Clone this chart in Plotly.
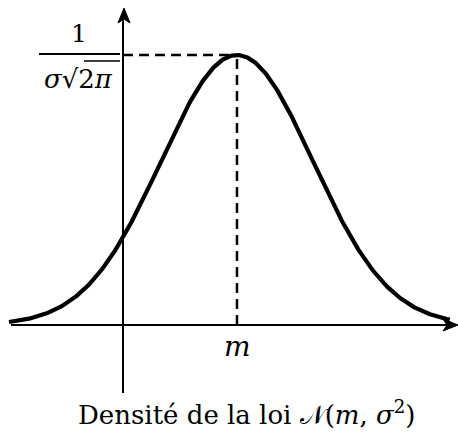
import numpy as np
import plotly.graph_objects as go

# Normal law parameters (mean at the origin of the drawing, unit spread)
m = 0.0
sigma = 1.0
x_start, x_end = -3.0, 2.8          # extent of the drawn curve
y_axis_pos = -1.5                    # where the vertical axis crosses
peak = 1.0 / (sigma * np.sqrt(2 * np.pi))

x = np.linspace(x_start, x_end, 400)
y = peak * np.exp(-((x - m) ** 2) / (2 * sigma ** 2))

W, H = 458, 441
px_x = 76.0          # pixels per x unit
px_y = 270.0 / peak  # pixels per y unit
x0_px, y0_px = 237.0, 325.0
xr = [(0 - x0_px) / px_x, (W - x0_px) / px_x]
yr = [(y0_px - H) / px_y, y0_px / px_y]


def X(p):
    return (p - x0_px) / px_x


def Y(p):
    return (y0_px - p) / px_y


FONT = "DejaVu Serif"

fig = go.Figure()

# axes
fig.add_trace(go.Scatter(x=[X(11), X(447)], y=[0, 0], mode="lines",
                         line=dict(color="black", width=2), hoverinfo="skip"))
fig.add_trace(go.Scatter(x=[y_axis_pos, y_axis_pos], y=[Y(393), Y(20)], mode="lines",
                         line=dict(color="black", width=2), hoverinfo="skip"))

# dashed guides to the maximum
fig.add_trace(go.Scatter(x=[y_axis_pos, m], y=[peak, peak], mode="lines",
                         line=dict(color="black", width=2.5, dash="10px,6px"),
                         hoverinfo="skip"))
fig.add_trace(go.Scatter(x=[m, m], y=[0, peak], mode="lines",
                         line=dict(color="black", width=2.5, dash="10px,6px"),
                         hoverinfo="skip"))
# density curve
fig.add_trace(go.Scatter(x=x, y=y, mode="lines",
                         line=dict(color="black", width=4.2),
                         hoverinfo="skip"))


def head(tip_x, tip_y, dx, dy, length=15, half=6, notch=4):
    """Stealth-style arrow head in pixel space, returned as a data-space path."""
    px_ = -dy
    py_ = dx
    pts = [
        (tip_x, tip_y),
        (tip_x - dx * length + px_ * half, tip_y - dy * length + py_ * half),
        (tip_x - dx * (length - notch), tip_y - dy * (length - notch)),
        (tip_x - dx * length - px_ * half, tip_y - dy * length - py_ * half),
    ]
    d = "M " + " L ".join(f"{X(a):.5f},{Y(b):.5f}" for a, b in pts) + " Z"
    return d


for path in (head(458, y0_px, 1, 0), head(124, 8, 0, -1)):
    fig.add_shape(type="path", path=path, fillcolor="black",
                  line=dict(color="black", width=1), xref="x", yref="y")

# labels
fig.add_annotation(x=m, y=Y(346), text="<i>m</i>", showarrow=False,
                   font=dict(family=FONT, size=28, color="black"))
fig.add_annotation(x=X(79), y=Y(33), text="1", showarrow=False,
                   font=dict(family=FONT, size=25, color="black"))
fig.add_annotation(x=X(78), y=Y(79), text="<i>σ</i>√2<i>π</i>", showarrow=False,
                   font=dict(family=FONT, size=26, color="black"))
fig.add_shape(type="line", x0=X(39), x1=X(120), y0=Y(54), y1=Y(54),
              line=dict(color="black", width=2))
fig.add_shape(type="line", x0=X(84), x1=X(120), y0=Y(61), y1=Y(61),
              line=dict(color="black", width=1.5))

fig.add_annotation(x=X(246), y=Y(413),
                   text="Densité de la loi 𝒩(<i>m</i>, <i>σ</i><sup>2</sup>)",
                   showarrow=False, font=dict(family=FONT, size=26, color="black"))

fig.update_xaxes(range=xr, visible=False, fixedrange=True)
fig.update_yaxes(range=yr, visible=False, fixedrange=True)
fig.update_layout(width=W, height=H, margin=dict(l=0, r=0, t=0, b=0),
                  plot_bgcolor="white", paper_bgcolor="white", showlegend=False)

fig.write_html("out.html")
